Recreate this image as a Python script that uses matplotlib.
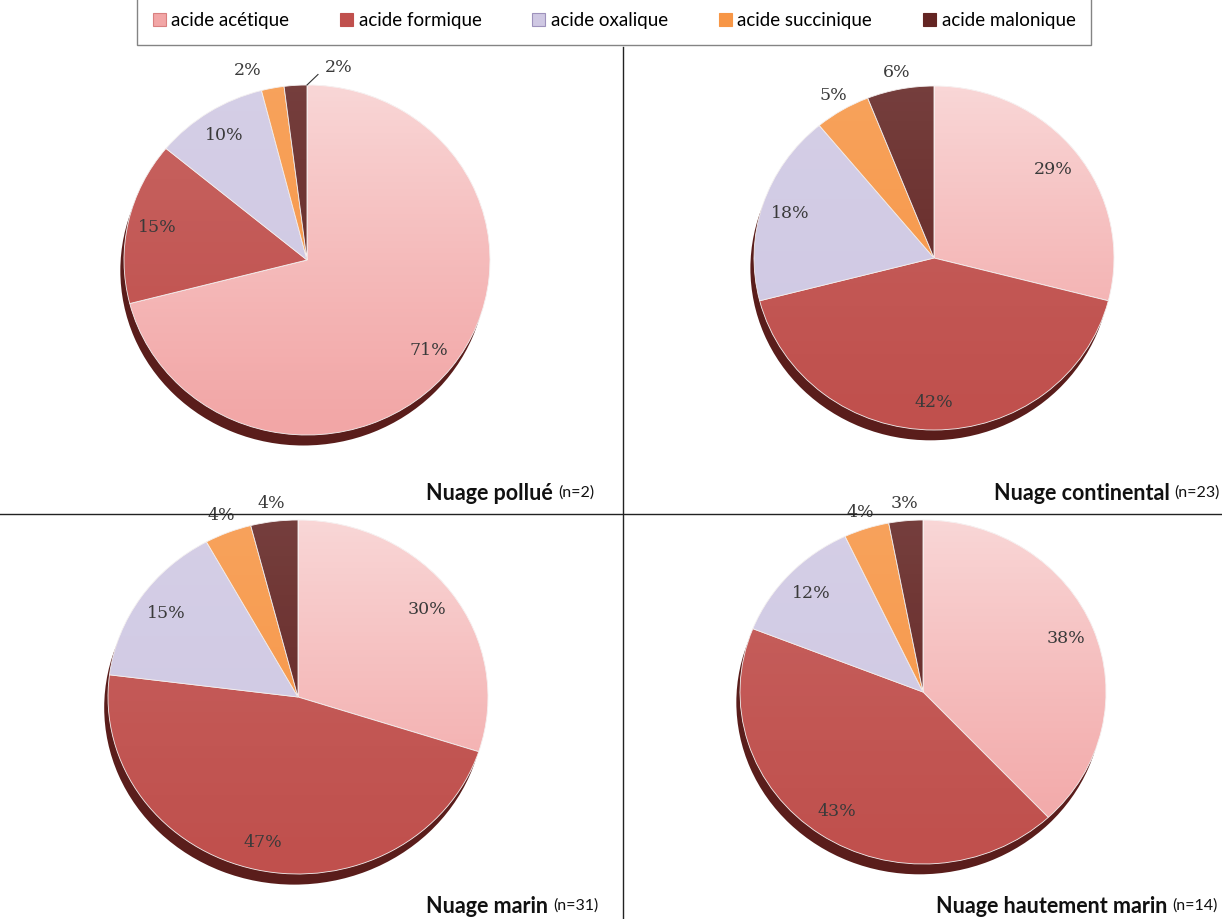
import matplotlib
matplotlib.use('Agg')
import matplotlib.pyplot as plt
import numpy as np
from matplotlib.patches import Patch
from matplotlib.lines import Line2D

# data
acids = ['acide acétique', 'acide formique', 'acide oxalique', 'acide succinique', 'acide malonique']
colors = ['#F2A6A6', '#C0504D', '#CFC8E3', '#F79646', '#632523']
edge_cols = ['#D98080', '#C0504D', '#9E92BC', '#F79646', '#632523']

titles = ['Nuage pollué', 'Nuage continental', 'Nuage marin', 'Nuage hautement marin']
counts = ['(n=2)', '(n=23)', '(n=31)', '(n=14)']
pollue = [71, 15, 10, 2, 2]
continental = [29, 42, 18, 5, 6]
marin = [30, 47, 15, 4, 4]
haut_marin = [38, 43, 12, 4, 3]
series = [pollue, continental, marin, haut_marin]

W, H = 1222, 919
fig = plt.figure(figsize=(W/100, H/100), dpi=100)

# pixel geometry of each pie: centre x, centre y, radius x, radius y
geom = [(307, 260, 183, 175), (934, 258, 180, 172),
        (298, 697, 190, 177), (923, 692, 183, 172)]
# title right edge and baseline (px)
title_pos = [(594, 497), (1220, 497), (598, 910), (1218, 910)]

shadow = '#5A1D1B'
grad = np.linspace(0, 1, 256).reshape(-1, 1)

def white_overlay(amax):
    g = np.zeros((256, 1, 4))
    g[..., :3] = 1
    g[..., 3] = amax * grad ** 1.2
    return g

for k, vals in enumerate(series):
    cx, cy, rx, ry = geom[k]
    ax = fig.add_axes([(cx - 1.15*rx)/W, 1 - (cy + 1.15*ry)/H, 2.3*rx/W, 2.3*ry/H])
    # shadow (3D look)
    ax.pie([1], colors=[shadow], radius=1.0, center=(-0.02, -0.06),
           wedgeprops=dict(linewidth=0), frame=True)
    wedges, _ = ax.pie(vals, colors=colors, startangle=90, counterclock=False,
                       radius=1.0, wedgeprops=dict(linewidth=0.6, edgecolor='#f4f0f0'),
                       frame=True)
    ax.set_xlim(-1.15, 1.15)
    ax.set_ylim(-1.15, 1.15)
    ax.axis('off')
    # light gradient, strong on the acetic slice, faint elsewhere
    for i, w in enumerate(wedges):
        im = ax.imshow(white_overlay(0.55 if i == 0 else 0.12), extent=(-1, 1, -1, 1),
                       origin='lower', aspect='auto', zorder=3)
        im.set_clip_path(w)
    ax.set_xlim(-1.15, 1.15)
    ax.set_ylim(-1.15, 1.15)

    total = float(sum(vals))
    cum = 0
    for i, v in enumerate(vals):
        mid = 90 - (cum + v/2) / total * 360
        cum += v
        r = 0.84 if v >= 8 else 1.1
        a = np.deg2rad(mid)
        x, y = r*np.cos(a), r*np.sin(a)
        if k == 0 and i == 4:
            # small label pushed right with a leader line
            ax.plot([0.0, 0.06], [1.0, 1.06], color='#333333', lw=0.8, zorder=4)
            x, y = 0.1, 1.1
            ax.text(x, y, f'{v}%', ha='left', va='center', fontsize=12.5,
                    family='DejaVu Serif', color='#3a3a3a', zorder=5)
            continue
        if k == 0 and i == 3:
            x -= 0.12
        ax.text(x, y, f'{v}%', ha='center', va='center',
                fontsize=12.5, family='DejaVu Serif', color='#3a3a3a', zorder=5)

    # title
    tx, ty = title_pos[k]
    t2 = fig.text(tx/W, 1 - ty/H, counts[k], ha='right', va='baseline',
                  fontsize=11.5, family=['Lato', 'DejaVu Sans'], color='#111111')
    ax.annotate(titles[k] + ' ', xy=(0, 0), xycoords=t2, ha='right', va='baseline',
                fontsize=15.5, fontweight='bold', family=['Lato', 'DejaVu Sans'],
                color='#111111', annotation_clip=False)

# divider lines
fig.add_artist(Line2D([623/W, 623/W], [0, 1 - 47/H], color='#222222', lw=1))
fig.add_artist(Line2D([0, 1], [1 - 514/H, 1 - 514/H], color='#222222', lw=1))

# legend
handles = [Patch(facecolor=c, edgecolor=e, linewidth=0.8) for c, e in zip(colors, edge_cols)]
leg = fig.legend(handles, acids, loc='upper center', bbox_to_anchor=(614/W, 1.014),
                 ncol=5, frameon=True, fancybox=False,
                 prop={'family': ['Lato', 'DejaVu Sans'], 'size': 13.5},
                 handlelength=0.7, handleheight=0.7, handletextpad=0.3,
                 columnspacing=2.7, borderpad=0.85)
leg.get_frame().set_edgecolor('#666666')
leg.get_frame().set_linewidth(1.0)

fig.savefig('out.png', dpi=100, facecolor='white')
